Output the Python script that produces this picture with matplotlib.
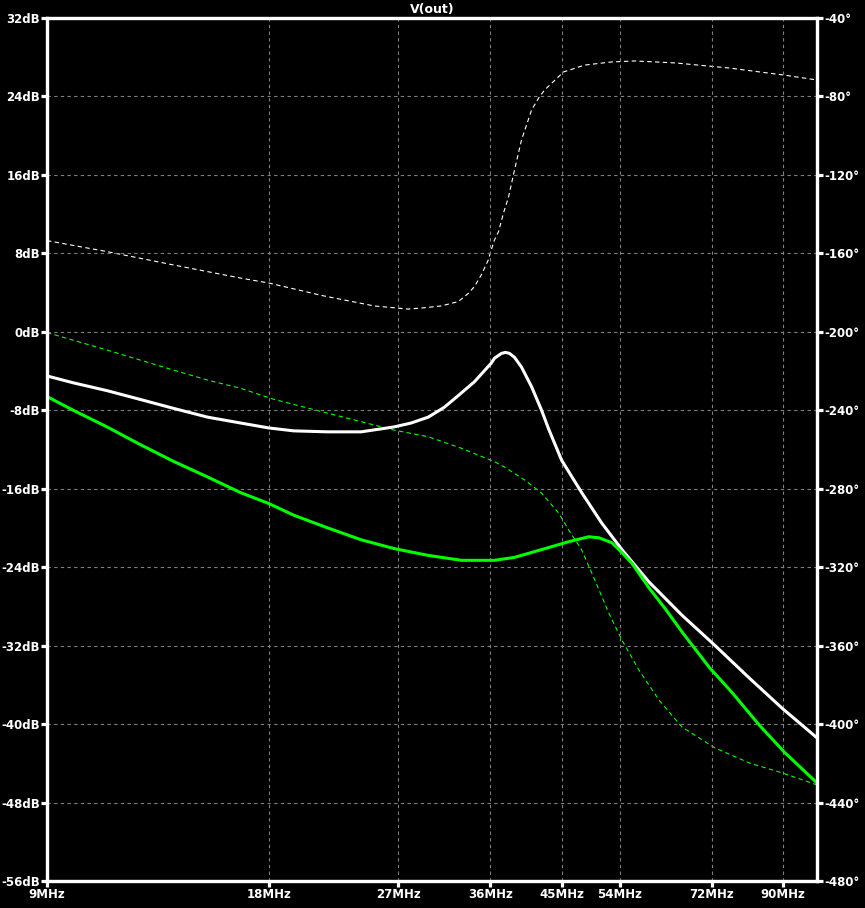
import numpy as np
import matplotlib
matplotlib.use("Agg")
import matplotlib.pyplot as plt
from matplotlib.ticker import FixedLocator, NullLocator

# -------------------------------
# Data (MHz, dB, degrees)
# -------------------------------

white_mag_f = [9.0, 9.77, 10.86, 12.05, 13.36, 14.87, 16.49, 18.0, 19.47, 21.66,
               24.03, 26.64, 28.1, 29.65, 31.17, 32.57, 34.25, 36.1, 36.47, 37.28,
               37.75, 38.23, 38.83, 39.69, 40.96, 42.26, 43.2, 45.0, 47.91, 51.01,
               54.32, 59.12, 65.56, 72.49, 80.91, 89.72, 100.0]
white_mag = [-4.5, -5.2, -6.0, -6.9, -7.8, -8.7, -9.3, -9.8, -10.1, -10.2,
             -10.2, -9.7, -9.3, -8.7, -7.7, -6.5, -5.1, -3.2, -2.7, -2.2,
             -2.1, -2.2, -2.6, -3.6, -5.6, -8.0, -9.9, -13.1, -16.4, -19.5,
             -22.2, -25.5, -28.9, -31.9, -35.3, -38.4, -41.4]

green_mag_f = [9.0, 9.77, 10.86, 12.05, 13.36, 14.87, 16.49, 18.0, 19.47, 21.66,
               24.03, 26.64, 29.65, 32.9, 36.47, 38.83, 43.2, 46.0, 48.97, 50.54,
               52.63, 54.32, 56.05, 59.12, 62.16, 65.56, 71.37, 76.71, 83.48, 90.4, 100.0]
green_mag = [-6.6, -8.0, -9.7, -11.5, -13.2, -14.8, -16.4, -17.5, -18.7, -20.0,
             -21.2, -22.1, -22.8, -23.3, -23.3, -23.0, -22.0, -21.4, -20.9, -21.0,
             -21.5, -22.5, -23.6, -26.1, -28.2, -30.6, -34.2, -36.8, -40.1, -42.9, -46.0]

white_ph_f = [9.0, 10.86, 13.36, 16.49, 18.0, 21.39, 25.03, 27.84, 29.0, 30.88,
              32.57, 33.61, 34.25, 35.0, 35.77, 36.1, 36.47, 36.93, 37.52, 38.11,
              38.83, 39.69, 40.96, 41.86, 42.66, 45.27, 48.36, 52.63, 56.58, 64.14,
              75.99, 90.2, 100.0]
white_ph = [-153.5, -159.1, -165.9, -172.6, -175.1, -181.7, -186.8, -188.4, -187.9, -186.8,
            -184.6, -180.4, -177.0, -171.0, -163.4, -158.3, -153.2, -149.0, -139.4, -131.3,
            -117.5, -102.2, -86.9, -80.9, -76.7, -67.5, -64.0, -62.4, -61.9, -62.9,
            -65.5, -69.1, -71.6]

green_ph_f = [9.0, 10.86, 13.36, 14.87, 16.49, 18.29, 21.66, 25.03, 26.64, 29.65,
              32.9, 36.47, 37.63, 40.07, 42.26, 44.58, 46.0, 47.91, 49.91, 52.15,
              54.32, 57.29, 61.0, 65.56, 72.72, 80.91, 89.72, 100.0]
green_ph = [-200.4, -209.3, -219.5, -224.6, -228.8, -234.4, -241.5, -247.5, -250.1, -253.5,
            -259.4, -266.2, -268.9, -275.5, -282.2, -292.4, -301.0, -311.2, -326.5, -343.4,
            -357.1, -372.4, -387.7, -401.5, -412.2, -419.8, -424.9, -431.0]

x_ticks = [9, 18, 27, 36, 45, 54, 72, 90]
db_ticks = list(range(-56, 33, 8))
ph_ticks = list(range(-480, -39, 40))

# -------------------------------
# Plot
# -------------------------------

plt.rcParams["font.family"] = ["DejaVu Sans"]

fig = plt.figure(figsize=(8.65, 9.08), dpi=100, facecolor="black")
ax = fig.add_axes([47 / 865, 1 - 881 / 908, 770 / 865, 863 / 908])
ax2 = ax.twinx()

ax.set_xscale("log")
ax.set_xlim(9, 100)
ax.set_ylim(-56, 32)
ax2.set_ylim(-480, -40)

ax.xaxis.set_major_locator(FixedLocator(x_ticks))
ax.xaxis.set_minor_locator(NullLocator())
ax.set_xticklabels([f"{t}MHz" for t in x_ticks])
ax.set_yticks(db_ticks)
ax.set_yticklabels([f"{t}dB" for t in db_ticks])
ax2.set_yticks(ph_ticks)
ax2.set_yticklabels([f"{t}\u00b0" for t in ph_ticks])

ax.grid(True, color="#808080", linestyle=(0, (3, 3)), linewidth=0.8)

for a in (ax, ax2):
    for s in a.spines.values():
        s.set_color("white")
        s.set_linewidth(2.3)
    a.tick_params(colors="white", width=2.3, length=4, pad=1, labelsize=8.5)
for lab in ax.get_xticklabels() + ax.get_yticklabels() + ax2.get_yticklabels():
    lab.set_fontweight("bold")

# phase curves (dashed, right axis)
ax2.patch.set_facecolor("black")
ax2.plot(white_ph_f, white_ph, color="white", linewidth=0.8, linestyle=(0, (4, 3)))
ax2.plot(green_ph_f, green_ph, color="#00ff00", linewidth=0.8, linestyle=(0, (4, 3)))

# magnitude curves (solid, left axis)
ax.set_zorder(ax2.get_zorder() + 1)
ax.patch.set_visible(False)
ax.plot(white_mag_f, white_mag, color="white", linewidth=2.2)
ax.plot(green_mag_f, green_mag, color="#00ff00", linewidth=2.2)

fig.text(432 / 865, 1 - 9 / 908, "V(out)", color="white", ha="center", va="center",
         fontsize=9, fontweight="bold")

fig.savefig("out.png", dpi=100, facecolor="black")
